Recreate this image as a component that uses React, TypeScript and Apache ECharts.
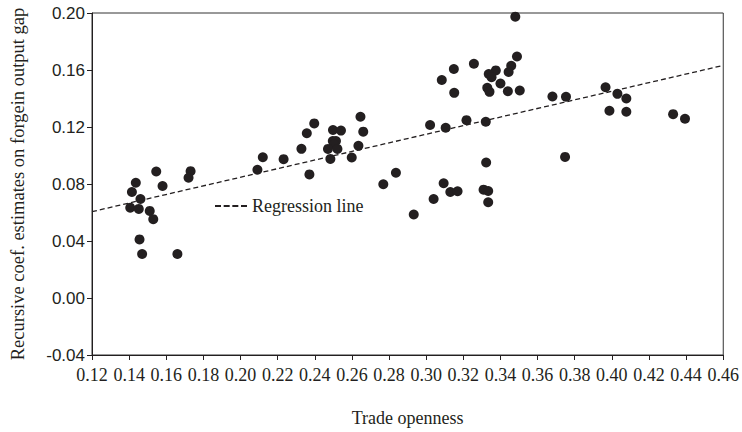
import React, { useEffect, useRef } from "react";
import * as echarts from "echarts";

// Trade openness (x) for each observation
const openness: number[] = [
  0.1546, 0.1731, 0.172, 0.1436, 0.158, 0.1415, 0.1461, 0.1406, 0.1452, 0.1511,
  0.153, 0.1456, 0.147, 0.166,
  0.212, 0.2232, 0.2091, 0.2328, 0.2357, 0.2397, 0.2371, 0.2498, 0.2541, 0.2497,
  0.2514, 0.2503, 0.2471, 0.2522, 0.2484, 0.2599, 0.2635, 0.2646, 0.2661,
  0.2837, 0.2769, 0.2933,
  0.304, 0.3094, 0.313, 0.3169, 0.3309, 0.3334, 0.3323, 0.3334, 0.3748,
  0.3021, 0.3105, 0.3217, 0.3321, 0.348, 0.3489, 0.3257, 0.3149, 0.3458, 0.3375,
  0.3444, 0.3337, 0.3352, 0.3084, 0.34, 0.3329, 0.3341, 0.3151, 0.344, 0.3504,
  0.368, 0.3753,
  0.3966, 0.403, 0.4078, 0.3987, 0.4078, 0.433, 0.4394,
];

// Recursive coefficient estimates on foreign output gap (y)
const coefEstimates: number[] = [
  0.0888, 0.089, 0.0844, 0.0809, 0.0786, 0.0744, 0.0695, 0.0634, 0.0625, 0.0611,
  0.0553, 0.0411, 0.0309, 0.0309,
  0.0988, 0.0974, 0.09, 0.1047, 0.1156, 0.1225, 0.0867, 0.1179, 0.1175, 0.1102,
  0.1102, 0.1079, 0.1046, 0.1046, 0.0976, 0.0986, 0.1068, 0.1272, 0.1167,
  0.0879, 0.0798, 0.0586,
  0.0695, 0.0805, 0.0744, 0.0749, 0.076, 0.0751, 0.0951, 0.0672, 0.099,
  0.1214, 0.1195, 0.1248, 0.1237, 0.1974, 0.1695, 0.1644, 0.1607, 0.163, 0.1597,
  0.1586, 0.1572, 0.1549, 0.153, 0.1505, 0.1475, 0.1447, 0.144, 0.1451, 0.1456,
  0.1414, 0.1412,
  0.1479, 0.1433, 0.14, 0.1314, 0.1307, 0.129, 0.1258,
];

// Regression line end points
const regressionX: number[] = [0.12, 0.46];
const regressionY: number[] = [0.0606, 0.1632];

const xMin = 0.12;
const xMax = 0.46;
const xStep = 0.02;
const yMin = -0.04;
const yMax = 0.2;
const yStep = 0.04;

const legendName = "Regression line";
const xTitle = "Trade openness";
const yTitle = "Recursive coef. estimates on forgein output gap";

export default function App() {
  const ref = useRef<HTMLDivElement>(null);

  useEffect(() => {
    if (!ref.current) return;
    const chart = echarts.init(ref.current, null, { renderer: "svg" });
    const serif = "'Liberation Serif', 'Times New Roman', serif";
    const sans = "'Liberation Sans', Arial, sans-serif";
    const ink = "#231f20";

    chart.setOption({
      animation: false,
      backgroundColor: "#ffffff",
      grid: {
        left: 87,
        right: 16,
        top: 13,
        bottom: 75,
        show: true,
        borderColor: "#333333",
        borderWidth: 1,
        backgroundColor: "transparent",
      },
      legend: {
        left: 215,
        top: 197,
        padding: 0,
        itemWidth: 32,
        itemHeight: 2,
        itemGap: 6,
        selectedMode: false,
        textStyle: { fontFamily: serif, fontSize: 18, color: ink },
        data: [
          {
            name: legendName,
            icon: "path://M0 0H6V2H0Z M8.67 0H14.67V2H8.67Z M17.33 0H23.33V2H17.33Z M26 0H32V2H26Z",
            itemStyle: { color: ink },
          },
        ],
      },
      xAxis: {
        type: "value",
        min: xMin,
        max: xMax,
        interval: xStep,
        name: xTitle,
        nameLocation: "middle",
        nameGap: 54,
        nameTextStyle: { fontFamily: serif, fontSize: 18, color: ink },
        axisLine: { show: true, onZero: false, lineStyle: { color: ink, width: 1 } },
        axisTick: { show: true, inside: false, length: 5, lineStyle: { color: ink } },
        axisLabel: {
          fontFamily: serif,
          fontSize: 18,
          color: ink,
          margin: 11,
          formatter: (v: number) => v.toFixed(2),
        },
        splitLine: { show: false },
      },
      yAxis: {
        type: "value",
        min: yMin,
        max: yMax,
        interval: yStep,
        name: yTitle,
        nameLocation: "middle",
        nameGap: 65,
        nameTextStyle: { fontFamily: serif, fontSize: 18.5, color: ink },
        axisLine: { show: true, onZero: false, lineStyle: { color: ink, width: 1 } },
        axisTick: { show: true, inside: false, length: 5, lineStyle: { color: ink } },
        axisLabel: {
          fontFamily: sans,
          fontSize: 17,
          color: ink,
          margin: 7,
          formatter: (v: number) => v.toFixed(2),
        },
        splitLine: { show: false },
      },
      series: [
        {
          type: "scatter",
          name: "Observations",
          symbol: "circle",
          symbolSize: 10,
          itemStyle: { color: ink, opacity: 1 },
          data: openness.map((x, i) => [x, coefEstimates[i]]),
          z: 3,
        },
        {
          type: "line",
          name: legendName,
          symbol: "none",
          lineStyle: { color: ink, width: 1.3, type: [5, 3] },
          itemStyle: { color: ink },
          data: regressionX.map((x, i) => [x, regressionY[i]]),
          z: 2,
        },
      ],
    });

    return () => chart.dispose();
  }, []);

  return (
    <div
      ref={ref}
      style={{ position: "fixed", left: 0, top: 0, width: 742, height: 432 }}
    />
  );
}
